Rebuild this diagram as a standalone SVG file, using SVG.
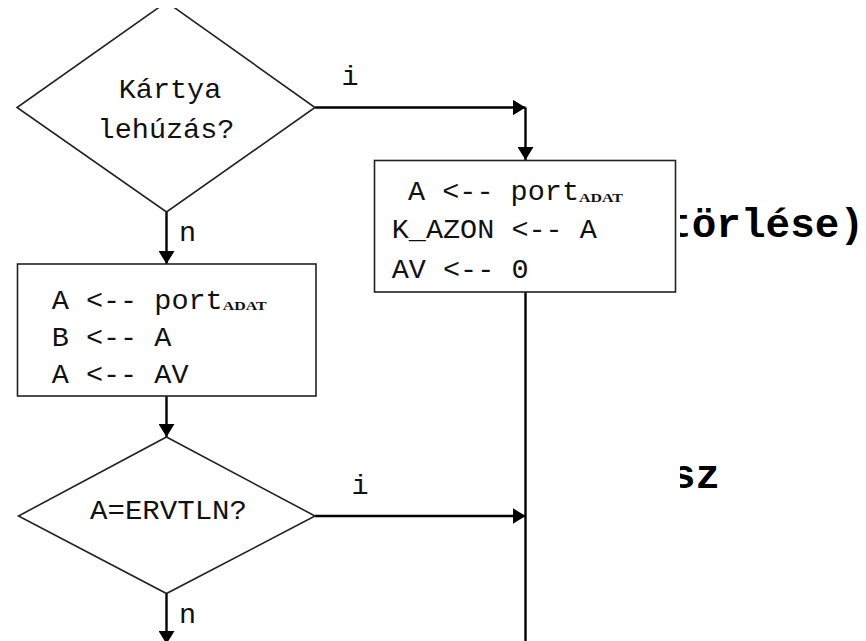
<svg xmlns="http://www.w3.org/2000/svg" width="866" height="641" viewBox="0 0 866 641">
  <style>
    .bg { font-family: "Liberation Mono", "Courier New", monospace; font-weight: bold; font-size: 40px; fill: #000; }
    .t { font-family: "Liberation Mono", "Courier New", monospace; font-size: 28.5px; fill: #111; }
    .sub { font-family: "Liberation Serif", "Times New Roman", serif; font-weight: bold; font-size: 13.5px; fill: #111; }
    .shape { fill: #fff; stroke: #222; stroke-width: 1.6; }
    .conn { fill: none; stroke: #000; stroke-width: 2.4; }
  </style>
  <defs>
    <marker id="arr" markerUnits="userSpaceOnUse" markerWidth="14" markerHeight="16" refX="13" refY="8" orient="auto">
      <path d="M0,0 L13,8 L0,16 z" fill="#000"/>
    </marker>
    <clipPath id="flowclip">
      <rect x="0" y="8" width="680" height="633"/>
    </clipPath>
  </defs>
  <rect x="0" y="0" width="866" height="641" fill="#fff"/>

  <!-- background slide text partially covered by the flowchart -->
  <g id="background-text">
    <text class="bg" x="360" y="-9">g</text>
    <text class="bg" x="667" y="237" textLength="197" lengthAdjust="spacingAndGlyphs">törlése)</text>
    <text class="bg" x="671" y="488" textLength="49" lengthAdjust="spacingAndGlyphs">sz</text>
  </g>

  <rect x="0" y="8" width="680" height="633" fill="#fff"/>

  <g clip-path="url(#flowclip)">
    <g id="connectors">
      <line class="conn" x1="315" y1="107.5" x2="525.5" y2="107.5" marker-end="url(#arr)"/>
      <line class="conn" x1="525.5" y1="107.5" x2="525.5" y2="160" marker-end="url(#arr)"/>
      <line class="conn" x1="166.5" y1="212" x2="166.5" y2="264" marker-end="url(#arr)"/>
      <line class="conn" x1="166.5" y1="396" x2="166.5" y2="437" marker-end="url(#arr)"/>
      <line class="conn" x1="315" y1="516" x2="525.5" y2="516" marker-end="url(#arr)"/>
      <line class="conn" x1="525.5" y1="292" x2="525.5" y2="645"/>
      <line class="conn" x1="166.5" y1="593" x2="166.5" y2="644" marker-end="url(#arr)"/>
      <text class="t" x="350" y="85" text-anchor="middle">i</text>
      <text class="t" x="179" y="241">n</text>
      <text class="t" x="360" y="494" text-anchor="middle">i</text>
      <text class="t" x="179" y="623">n</text>
    </g>

    <g id="dec-kartya">
      <polygon class="shape" points="166.5,2 315,107.5 166.5,212 17,107.5"/>
      <text class="t" x="170" y="98" text-anchor="middle">Kártya</text>
      <text class="t" x="166" y="138" text-anchor="middle">lehúzás?</text>
    </g>

    <g id="box-read">
      <rect class="shape" x="17.5" y="264" width="298.5" height="132"/>
      <text class="t" x="51.7" y="309">A &lt;-- port</text>
      <text class="sub" x="222.7" y="310" textLength="44" lengthAdjust="spacingAndGlyphs">ADAT</text>
      <text class="t" x="51.7" y="346">B &lt;-- A</text>
      <text class="t" x="51.7" y="383">A &lt;-- AV</text>
    </g>

    <g id="dec-ervtln">
      <polygon class="shape" points="166.5,437 315,516 166.5,593.5 18.5,516"/>
      <text class="t" x="168.5" y="519" text-anchor="middle" textLength="157" lengthAdjust="spacingAndGlyphs">A=ERVTLN?</text>
    </g>

    <g id="box-card">
      <rect class="shape" x="374.5" y="160.5" width="301" height="131.5"/>
      <text class="t" x="408" y="200">A &lt;-- port</text>
      <text class="sub" x="579" y="202" textLength="44" lengthAdjust="spacingAndGlyphs">ADAT</text>
      <text class="t" x="391.7" y="238">K_AZON &lt;-- A</text>
      <text class="t" x="391.7" y="278">AV &lt;-- 0</text>
    </g>
  </g>
</svg>
